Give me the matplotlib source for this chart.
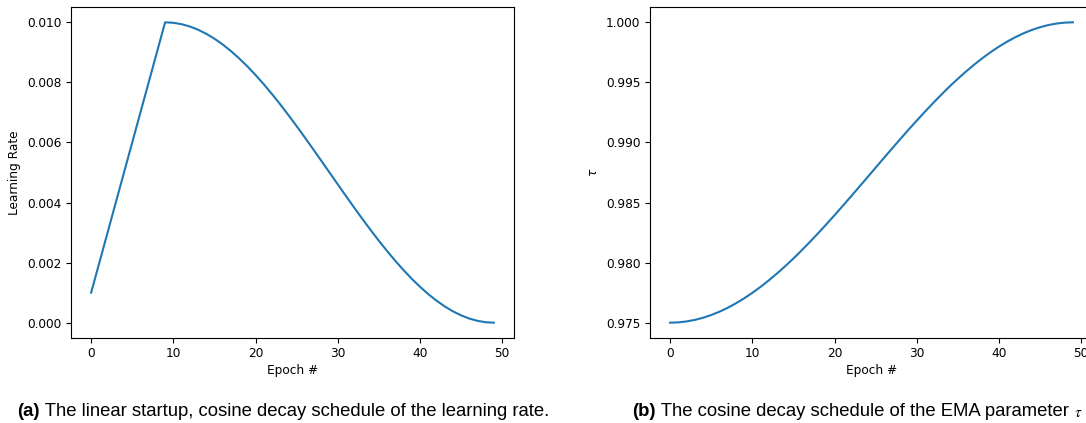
import matplotlib
matplotlib.use("Agg")
import matplotlib.pyplot as plt

# epochs 0..49
epochs = list(range(50))

# learning rate: linear warmup, then cosine decay
lr = [0.001, 0.002, 0.003, 0.004, 0.005, 0.006, 0.007, 0.008, 0.009, 0.010,
      0.009985, 0.009938, 0.009862, 0.009755, 0.009619, 0.009455, 0.009263, 0.009045, 0.008802, 0.008536,
      0.008247, 0.007939, 0.007612, 0.007270, 0.006913, 0.006545, 0.006167, 0.005782, 0.005392, 0.005000,
      0.004608, 0.004218, 0.003833, 0.003455, 0.003087, 0.002730, 0.002388, 0.002061, 0.001753, 0.001464,
      0.001198, 0.000955, 0.000737, 0.000545, 0.000381, 0.000245, 0.000138, 0.000062, 0.000015, 0.0]

# EMA parameter tau
tau = [0.975000, 0.975026, 0.975103, 0.975231, 0.975409, 0.975637, 0.975914, 0.976238, 0.976609, 0.977024,
       0.977482, 0.977982, 0.978520, 0.979094, 0.979703, 0.980342, 0.981019, 0.981719, 0.982440, 0.983184,
       0.983944, 0.984718, 0.985506, 0.986300, 0.987099, 0.987901, 0.988700, 0.989494, 0.990282, 0.991057,
       0.991816, 0.992560, 0.993282, 0.993981, 0.994658, 0.995298, 0.995906, 0.996480, 0.997018, 0.997518,
       0.997976, 0.998391, 0.998762, 0.999087, 0.999363, 0.999591, 0.999770, 0.999897, 0.999974, 1.000000]

lr_ticks = [0.000, 0.002, 0.004, 0.006, 0.008, 0.010]
tau_ticks = [0.975, 0.980, 0.985, 0.990, 0.995, 1.000]
x_ticks = [0, 10, 20, 30, 40, 50]

caption_a = " The linear startup, cosine decay schedule of the learning rate."
caption_b = " The cosine decay schedule of the EMA parameter "

plt.rcParams["font.size"] = 8.7

fig = plt.figure(figsize=(10.86, 4.23), dpi=100)

# axes placed in pixels so the right panel runs past the edge like the reference
W, H = 1086, 423
ax1 = fig.add_axes([71 / W, (H - 337.7) / H, 443 / W, 330.4 / H])
ax2 = fig.add_axes([650 / W, (H - 337.7) / H, 443 / W, 330.4 / H])

ax1.plot(epochs, lr, color="#1f77b4", linewidth=1.5)
ax1.set_xticks(x_ticks)
ax1.set_yticks(lr_ticks)
ax1.set_yticklabels([f"{t:.3f}" for t in lr_ticks])
ax1.set_xlabel("Epoch #", labelpad=2.5)
ax1.set_ylabel("Learning Rate")

ax2.plot(epochs, tau, color="#1f77b4", linewidth=1.5)
ax2.set_xticks(x_ticks)
ax2.set_yticks(tau_ticks)
ax2.set_yticklabels([f"{t:.3f}" for t in tau_ticks])
ax2.set_xlabel("Epoch #", labelpad=2.5)
ax2.set_ylabel("$\\tau$")

# captions under each panel, bold letter then plain text
cap_font = dict(family="Liberation Sans", fontsize=13.3)
ta = fig.text(17 / W, 7 / H, "(a)", fontweight="bold", va="baseline", **cap_font)
fig.canvas.draw()
fig.add_artist(plt.Annotation(caption_a, xy=(1, 0), xycoords=ta, va="bottom", **cap_font))
tb = fig.text(632 / W, 7 / H, "(b)", fontweight="bold", va="baseline", **cap_font)
cb = plt.Annotation(caption_b, xy=(1, 0), xycoords=tb, va="bottom", **cap_font)
fig.add_artist(cb)
fig.add_artist(plt.Annotation("$\\tau$", xy=(1, 0), xycoords=cb, va="bottom",
                              fontsize=11, math_fontfamily="stix"))

fig.savefig("out.png", dpi=100)
